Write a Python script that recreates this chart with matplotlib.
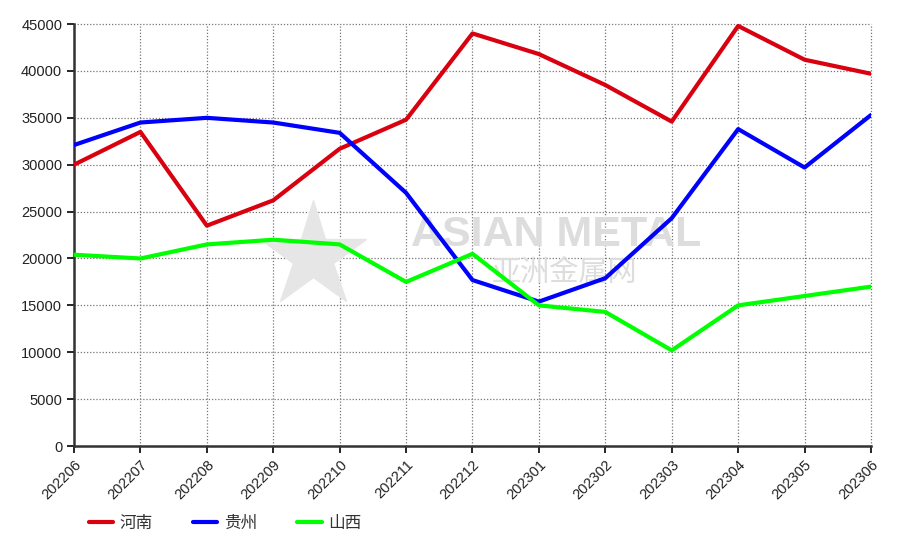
import matplotlib
matplotlib.use("Agg")
import matplotlib.pyplot as plt

plt.rcParams['font.family'] = ['Liberation Sans', 'Noto Sans CJK SC', 'DejaVu Sans']

# -------------------------------
# DATA
# -------------------------------
months = ["202206", "202207", "202208", "202209", "202210", "202211", "202212",
          "202301", "202302", "202303", "202304", "202305", "202306"]
henan = [30000, 33500, 23500, 26200, 31700, 34800, 44000,
         41800, 38500, 34600, 44800, 41200, 39700]
guizhou = [32100, 34500, 35000, 34500, 33400, 27000, 17700,
           15400, 17900, 24300, 33800, 29700, 35300]
shanxi = [20400, 20000, 21500, 22000, 21500, 17500, 20500,
          15000, 14300, 10200, 15000, 16000, 17000]

series = [("河南", henan, "#d9000f"),
          ("贵州", guizhou, "#0000ff"),
          ("山西", shanxi, "#00ff00")]

# -------------------------------
# PLOT
# -------------------------------
fig = plt.figure(figsize=(8.97, 5.47), dpi=100)
ax = fig.add_axes([0.0825, 0.1846, 0.8885, 0.7714])

x = list(range(len(months)))

# watermark
ax.text(0.605, 0.50, "ASIAN METAL", transform=ax.transAxes, fontsize=31,
        fontweight="bold", color="#dddddd", ha="center", va="center",
        zorder=1)
ax.text(0.615, 0.41, "亚洲金属网", transform=ax.transAxes, fontsize=21,
        color="#dddddd", ha="center", va="center", zorder=1,
        family=["Noto Sans CJK SC", "DejaVu Sans"])
ax.plot([0.30], [0.45], transform=ax.transAxes, marker="*", markersize=80,
        color="#e6e6e6", zorder=1)

for name, vals, col in series:
    ax.plot(x, vals, color=col, lw=3, label=name, solid_joinstyle="round",
            solid_capstyle="round", zorder=3)

ax.set_xlim(0, len(months) - 1)
ax.set_ylim(0, 45000)
ax.set_yticks(range(0, 45001, 5000))
ax.set_xticks(x)
ax.set_xticklabels(months, rotation=45, ha="right", rotation_mode="anchor",
                   fontsize=10.5, color="#222222")
ax.tick_params(axis="y", labelsize=10.5, labelcolor="#222222", length=5, width=1.2)
ax.tick_params(axis="x", length=5, width=1.2)

ax.grid(True, linestyle=(0, (1, 1.5)), color="#777777", linewidth=0.9, zorder=0)
for gl in ax.get_xgridlines() + ax.get_ygridlines():
    gl.set_clip_on(False)
ax.set_axisbelow(True)
ax.spines["top"].set_visible(False)
ax.spines["right"].set_visible(False)
ax.spines["left"].set_linewidth(1.8)
ax.spines["bottom"].set_linewidth(1.8)
ax.spines["left"].set_color("#333333")
ax.spines["bottom"].set_color("#333333")

leg = fig.legend(loc="lower left", bbox_to_anchor=(0.082, 0.0), ncol=3,
                 frameon=False, handlelength=1.45,
                 columnspacing=2.4, handletextpad=0.42,
                 prop={"family": ["Noto Sans CJK SC", "DejaVu Sans"], "size": 12})
for t in leg.get_texts():
    t.set_color("#333333")

fig.savefig("out.png", dpi=100)
